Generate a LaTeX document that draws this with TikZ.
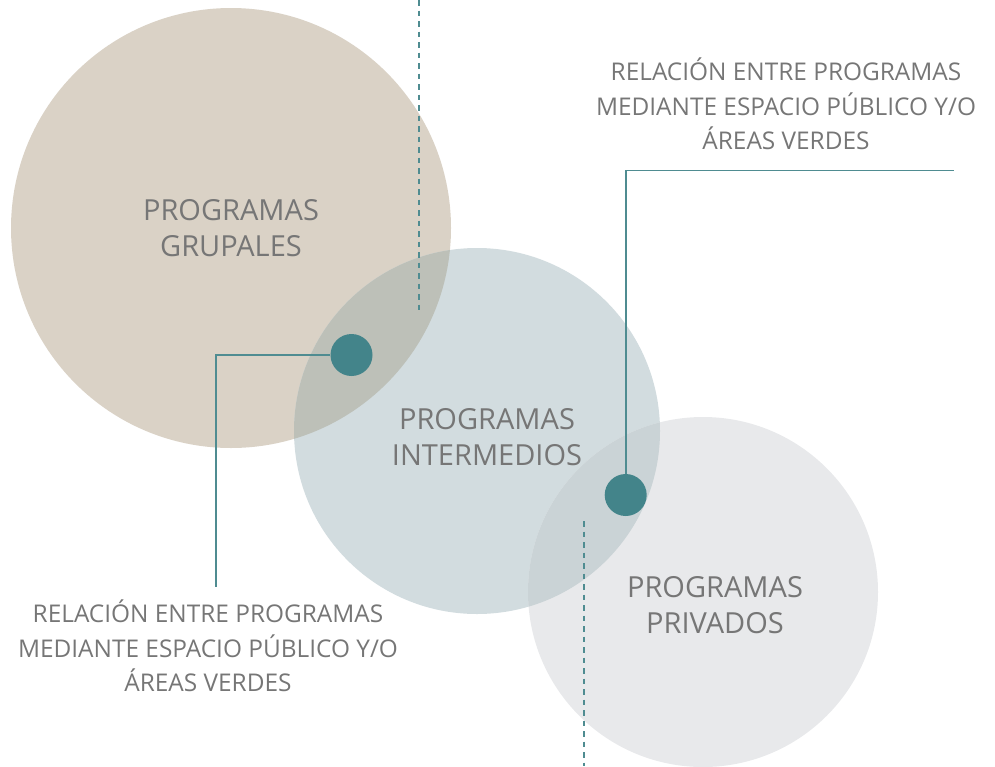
\documentclass[tikz,border=0pt]{standalone}
\usepackage{fontspec}
\setmainfont{Open Sans}
\definecolor{cG}{HTML}{DAD2C6}
\definecolor{cI}{HTML}{D2DCDF}
\definecolor{cP}{HTML}{E8E9EB}
\definecolor{cGI}{HTML}{BDC0B8}
\definecolor{cIP}{HTML}{CAD3D6}
\definecolor{cDot}{HTML}{43848A}
\definecolor{cLine}{HTML}{4F8C91}
\definecolor{cText}{HTML}{767676}
\tikzset{
  bigc/.style={circle, inner sep=0pt, outer sep=0pt},
  dotc/.style={circle, fill=cDot, inner sep=0pt, minimum size=42pt},
  mainlbl/.style={text=cText, align=center, font=\fontsize{29}{36.5}\selectfont, inner sep=0pt},
  sidelbl/.style={text=cText, align=center, font=\fontsize{24.4}{34.5}\selectfont, inner sep=0pt},
  conn/.style={draw=cLine, line width=1.6pt},
  dashconn/.style={draw=cLine, line width=2pt, dash pattern=on 5.5pt off 5pt}
}
\begin{document}
\begin{tikzpicture}[x=1pt, y=-1pt]
\useasboundingbox (0,0) rectangle (995,766);
% circles
\fill[cG] (231,228) circle (220);
\fill[cI] (477,431) circle (183);
\fill[cP] (703,592) circle (175);
\begin{scope}
  \clip (231,228) circle (220);
  \fill[cGI] (477,431) circle (183);
\end{scope}
\begin{scope}
  \clip (703,592) circle (175);
  \fill[cIP] (477,431) circle (183);
\end{scope}
\node[bigc, minimum size=440pt] (grup) at (231,228) {};
\node[bigc, minimum size=366pt] (inter) at (477,431) {};
\node[bigc, minimum size=350pt] (priv) at (703,592) {};
% labels
\node[mainlbl] (lg) at (231,228) {PROGRAMAS\\GRUPALES};
\node[mainlbl] (li) at (487,437) {PROGRAMAS\\INTERMEDIOS};
\node[mainlbl] (lp) at (715,605) {PROGRAMAS\\PRIVADOS};
% dashed lines
\coordinate (d1t) at (419,0);
\coordinate (d1b) at (419,312);
\coordinate (d2t) at (584,521);
\coordinate (d2b) at (584,766);
\draw[dashconn] (d1t) -- (d1b);
\draw[dashconn] (d2t) -- (d2b);
% connectors
\node[dotc] (dotA) at (351.5,355) {};
\node[dotc] (dotB) at (625.7,495) {};
\coordinate (cA) at (216,355);
\coordinate (eA) at (216,587);
\coordinate (cB) at (625.7,170.5);
\coordinate (eB) at (954,170.5);
\draw[conn] (dotA.west) -- (cA) -- (eA);
\draw[conn] (dotB.north) -- (cB) -- (eB);
% side labels
\node[sidelbl] (tr) at (786,104) {RELACIÓN ENTRE PROGRAMAS\\MEDIANTE ESPACIO PÚBLICO Y/O\\ÁREAS VERDES};
\node[sidelbl] (bl) at (208,646) {RELACIÓN ENTRE PROGRAMAS\\MEDIANTE ESPACIO PÚBLICO Y/O\\ÁREAS VERDES};
\end{tikzpicture}
\end{document}
